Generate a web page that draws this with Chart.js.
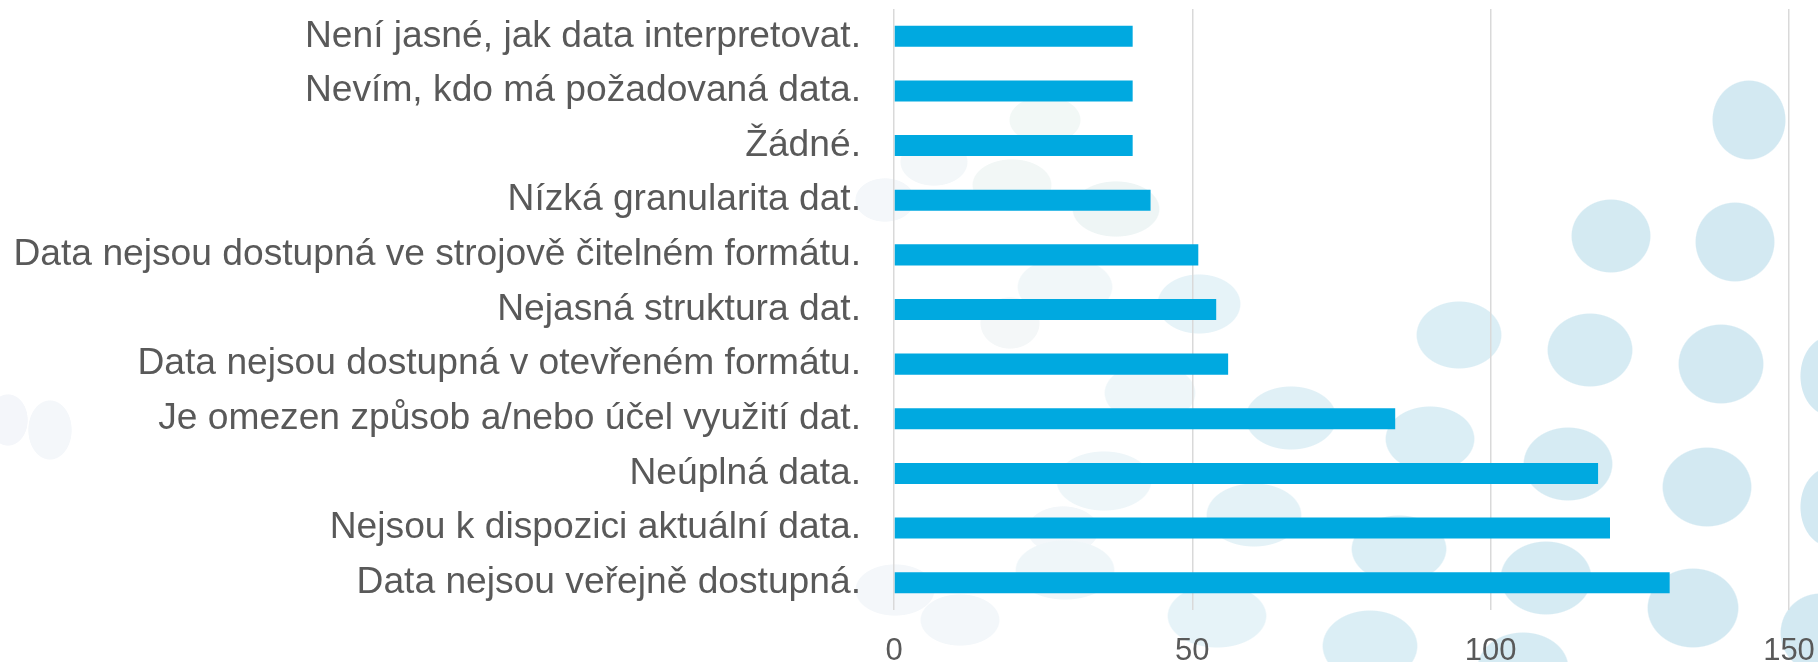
<!DOCTYPE html>
<html>
<head>
<meta charset="utf-8">
<script src="https://cdn.jsdelivr.net/npm/chart.js@4"></script>
<style>
  html, body { margin: 0; padding: 0; background: #ffffff; }
  #wrap { position: relative; width: 1818px; height: 662px; overflow: hidden; }
  #deco { position: absolute; left: 0; top: 0; width: 1818px; height: 662px; }
  #c { position: absolute; left: 0; top: 0; }
</style>
</head>
<body>
<div id="wrap">
  <div id="deco"></div>
  <canvas id="c" width="1818" height="662"></canvas>
</div>
<script>
const categories = [
  "Není jasné, jak data interpretovat.",
  "Nevím, kdo má požadovaná data.",
  "Žádné.",
  "Nízká granularita dat.",
  "Data nejsou dostupná ve strojově čitelném formátu.",
  "Nejasná struktura dat.",
  "Data nejsou dostupná v otevřeném formátu.",
  "Je omezen způsob a/nebo účel využití dat.",
  "Neúplná data.",
  "Nejsou k dispozici aktuální data.",
  "Data nejsou veřejně dostupná."
];
const counts = [40, 40, 40, 43, 51, 54, 56, 84, 118, 120, 130];
const xTicks = [0, 50, 100, 150];

// decorative background blobs (page styling only)
const blobs = [
  [1749,120,37,40,'#d3e9f2'],[1611,236,40,37,'#d4eaf2'],[1735,242,40,40,'#d3e9f2'],
  [1459,335,43,34,'#dbeef5'],[1590,350,43,37,'#d6ebf3'],[1721,364,43,40,'#d3e9f2'],
  [1830,376,30,40,'#d3e9f2'],[1291,418,46,32,'#e0f0f6'],[1430,439,45,33,'#dbeef5'],
  [1568,464,45,37,'#d6ebf3'],[1707,487,45,40,'#d3e9f2'],[1830,507,30,40,'#d3e9f2'],
  [1254,515,48,32,'#e4f2f7'],[1399,549,48,34,'#dbeef5'],[1546,578,46,37,'#d6ebf3'],
  [1693,608,46,40,'#d3e9f2'],[1820,633,40,40,'#d3e9f2'],[1217,616,50,32,'#e6f3f8'],
  [1370,646,48,36,'#dbeef5'],[1523,668,46,36,'#d6ebf3'],[1199,304,42,30,'#e6f3f8'],
  [1150,393,46,30,'#eef6f9'],[1104,481,48,30,'#eef6f9'],[1065,570,50,30,'#eff6f9'],
  [1065,287,48,30,'#f1f7f9'],[1116,209,44,28,'#eef5f5'],[1045,120,36,24,'#f2f8f6'],
  [1012,185,40,26,'#f2f7f6'],[934,162,34,24,'#f3f7f9'],[885,200,30,22,'#f4f7fa'],
  [1010,323,30,26,'#f4f7f8'],[1063,530,36,24,'#f3f7fa'],[960,620,40,26,'#f3f7fa'],
  [895,590,40,26,'#f4f7fa'],[50,430,22,30,'#f4f7fa'],[8,420,20,26,'#f4f6fa']
];
document.getElementById('deco').style.background = blobs.map(b =>
  `radial-gradient(ellipse ${b[2]}px ${b[3]}px at ${b[0]}px ${b[1]}px, ${b[4]} 97%, rgba(255,255,255,0) 100%)`
).join(',') + ', #ffffff';

const textColor = '#595959';

new Chart(document.getElementById('c'), {
  type: 'bar',
  data: {
    labels: categories,
    datasets: [{
      data: counts,
      backgroundColor: '#00A9E0',
      borderWidth: 0,
      barPercentage: 0.385,
      categoryPercentage: 1.0
    }]
  },
  options: {
    indexAxis: 'y',
    responsive: false,
    animation: false,
    devicePixelRatio: 1,
    layout: { padding: { left: 0, right: 29, top: 9, bottom: 0 } },
    plugins: { legend: { display: false }, tooltip: { enabled: false } },
    scales: {
      x: {
        min: 0, max: 150,
        afterBuildTicks: (s) => { s.ticks = xTicks.map(v => ({ value: v })); },
        afterFit: (s) => { s.height = 52; s.paddingLeft = 0; s.paddingRight = 0; },
        grid: { color: '#d9d9d9', lineWidth: 1.5, drawTicks: false },
        border: { display: false },
        ticks: {
          color: textColor,
          font: { family: '"Liberation Sans", Arial, sans-serif', size: 31 },
          padding: 23
        }
      },
      y: {
        afterFit: (s) => { s.width = 894; s.paddingTop = 0; s.paddingBottom = 0; },
        grid: { display: false, drawTicks: false },
        border: { display: false },
        ticks: {
          color: textColor,
          font: { family: '"Liberation Sans", Arial, sans-serif', size: 37.2 },
          padding: 33,
          autoSkip: false
        }
      }
    }
  }
});
</script>
</body>
</html>
